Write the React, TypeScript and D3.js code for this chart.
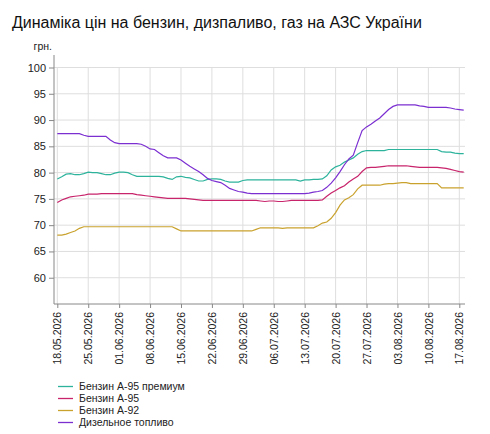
import { useEffect, useRef } from 'react';
import * as d3 from 'd3';

// one value per day, starting 18.05.2026
const startDate = new Date(2026, 4, 18);

const premium95 = [
  78.8, 79.2, 79.7, 79.8, 79.6, 79.6, 79.8, 80.1, 80.0, 80.0,
  79.8, 79.6, 79.6, 79.9, 80.1, 80.1, 80.0, 79.6, 79.3, 79.3,
  79.3, 79.3, 79.3, 79.3, 79.2, 78.9, 78.7, 79.2, 79.3, 79.1,
  79.0, 78.7, 78.4, 78.4, 78.7, 78.8, 78.8, 78.7, 78.4, 78.2,
  78.2, 78.2, 78.5, 78.6, 78.6, 78.6, 78.6, 78.6, 78.6, 78.6,
  78.6, 78.6, 78.6, 78.6, 78.6, 78.4, 78.6, 78.6, 78.7, 78.7,
  78.8, 79.4, 80.5, 81.1, 81.4, 82.0, 82.4, 82.8, 83.5, 84.0,
  84.2, 84.2, 84.2, 84.2, 84.2, 84.4, 84.4, 84.4, 84.4, 84.4,
  84.4, 84.4, 84.4, 84.4, 84.4, 84.4, 84.4, 84.0, 83.9, 83.9,
  83.7, 83.6, 83.6,
];

const petrol95 = [
  74.3, 74.8, 75.1, 75.4, 75.5, 75.6, 75.7, 75.9, 75.9, 75.9,
  76.0, 76.0, 76.0, 76.0, 76.0, 76.0, 76.0, 76.0, 75.8, 75.7,
  75.6, 75.5, 75.4, 75.3, 75.2, 75.1, 75.1, 75.1, 75.1, 75.1,
  75.0, 74.9, 74.8, 74.7, 74.7, 74.7, 74.7, 74.7, 74.7, 74.7,
  74.7, 74.7, 74.7, 74.7, 74.7, 74.7, 74.6, 74.5, 74.6, 74.6,
  74.5, 74.5, 74.6, 74.7, 74.7, 74.7, 74.7, 74.7, 74.7, 74.7,
  74.8, 75.5, 76.1, 76.6, 77.1, 77.5, 78.2, 78.8, 79.3, 80.2,
  80.9, 81.0, 81.0, 81.1, 81.2, 81.3, 81.3, 81.3, 81.3, 81.3,
  81.2, 81.1, 81.0, 81.0, 81.0, 81.0, 81.0, 80.9, 80.8, 80.6,
  80.4, 80.2, 80.1,
];

const petrol92 = [
  68.1, 68.1, 68.3, 68.6, 68.9, 69.4, 69.7, 69.7, 69.7, 69.7,
  69.7, 69.7, 69.7, 69.7, 69.7, 69.7, 69.7, 69.7, 69.7, 69.7,
  69.7, 69.7, 69.7, 69.7, 69.7, 69.7, 69.7, 69.3, 68.9, 68.9,
  68.9, 68.9, 68.9, 68.9, 68.9, 68.9, 68.9, 68.9, 68.9, 68.9,
  68.9, 68.9, 68.9, 68.9, 68.9, 69.2, 69.5, 69.5, 69.5, 69.5,
  69.5, 69.4, 69.5, 69.5, 69.5, 69.5, 69.5, 69.5, 69.5, 69.9,
  70.4, 70.6, 71.3, 72.4, 73.8, 74.8, 75.2, 75.8, 76.9, 77.6,
  77.6, 77.6, 77.6, 77.6, 77.8, 77.9, 77.9, 78.0, 78.1, 78.1,
  77.9, 77.9, 77.9, 77.9, 77.9, 77.9, 77.9, 77.1, 77.1, 77.1,
  77.1, 77.1, 77.1,
];

const diesel = [
  87.4, 87.4, 87.4, 87.4, 87.4, 87.4, 87.1, 86.9, 86.9, 86.9,
  86.9, 86.9, 86.2, 85.7, 85.5, 85.5, 85.5, 85.5, 85.5, 85.4,
  85.0, 84.5, 84.4, 83.8, 83.2, 82.8, 82.8, 82.8, 82.4, 81.8,
  81.2, 80.7, 80.2, 79.6, 78.9, 78.5, 78.3, 78.1, 77.6, 77.0,
  76.7, 76.4, 76.3, 76.1, 76.0, 76.0, 76.0, 76.0, 76.0, 76.0,
  76.0, 76.0, 76.0, 76.0, 76.0, 76.0, 76.0, 76.1, 76.3, 76.4,
  76.6, 77.2, 78.0, 79.0, 80.2, 81.5, 82.6, 83.3, 85.7, 88.0,
  88.7, 89.2, 89.8, 90.4, 91.2, 92.0, 92.6, 92.9, 92.9, 92.9,
  92.9, 92.9, 92.7, 92.6, 92.4, 92.4, 92.4, 92.4, 92.4, 92.3,
  92.1, 92.0, 91.9,
];

const seriesNames = ['Бензин А-95 премиум', 'Бензин А-95', 'Бензин А-92', 'Дизельное топливо'];
const seriesColors = ['#2db39c', '#c8246b', '#c9a22e', '#7b2fd1'];
const seriesValues = [premium95, petrol95, petrol92, diesel];

const yTicks = [60, 65, 70, 75, 80, 85, 90, 95, 100];
const xTickCount = 14; // weekly, 18.05 .. 17.08

const title = 'Динаміка цін на бензин, дизпаливо, газ на АЗС України';
const unitLabel = 'грн.';

const App = () => {
  const ref = useRef(null);

  useEffect(() => {
    const svg = d3.select(ref.current);
    svg.selectAll('*').remove();

    const dayMs = 24 * 3600 * 1000;
    const dateAt = (i: number) => new Date(startDate.getTime() + i * dayMs);

    const x = d3
      .scaleTime()
      .domain([startDate, dateAt(91)])
      .range([57.3, 459.3]);
    const y = d3.scaleLinear().domain([55, 100]).range([304, 67.5]);

    const font = '"Liberation Sans", Arial, sans-serif';

    // title
    svg
      .append('text')
      .attr('x', 12)
      .attr('y', 28)
      .style('font', `16px ${font}`)
      .attr('fill', '#111')
      .text(title);

    const xTicks = d3.range(xTickCount).map((i) => dateAt(i * 7));

    // grid
    const grid = svg.append('g');
    grid
      .selectAll('line.h')
      .data(yTicks)
      .enter()
      .append('line')
      .attr('x1', 54)
      .attr('x2', 465)
      .attr('y1', (d: any) => y(d))
      .attr('y2', (d: any) => y(d))
      .attr('stroke', '#dedede');
    grid
      .selectAll('line.v')
      .data(xTicks)
      .enter()
      .append('line')
      .attr('x1', (d: any) => x(d))
      .attr('x2', (d: any) => x(d))
      .attr('y1', y(100))
      .attr('y2', 304)
      .attr('stroke', '#dedede');

    // y axis
    const yAxis = d3.axisLeft(y).tickValues(yTicks).tickSize(5).tickSizeOuter(0);
    const gy = svg.append('g').attr('transform', 'translate(54,0)').call(yAxis);
    gy.select('.domain').remove();
    gy.selectAll('line').attr('stroke', '#888');
    gy.selectAll('text').style('font', `11px ${font}`).attr('fill', '#222');
    svg
      .append('line')
      .attr('x1', 54)
      .attr('x2', 54)
      .attr('y1', 55)
      .attr('y2', 304)
      .attr('stroke', '#888');

    svg
      .append('text')
      .attr('x', 52)
      .attr('y', 50)
      .attr('text-anchor', 'end')
      .style('font', `10.5px ${font}`)
      .attr('fill', '#222')
      .text(unitLabel);

    // x axis
    const xAxis = d3
      .axisBottom(x)
      .tickValues(xTicks)
      .tickSize(4)
      .tickSizeOuter(0)
      .tickFormat(d3.timeFormat('%d.%m.%Y') as any);
    const gx = svg.append('g').attr('transform', 'translate(0,304)').call(xAxis);
    gx.select('.domain').remove();
    gx.selectAll('line').attr('stroke', '#888');
    gx.selectAll('text')
      .style('font', `10.5px ${font}`)
      .attr('fill', '#222')
      .attr('transform', 'rotate(-90)')
      .attr('text-anchor', 'end')
      .attr('x', -8)
      .attr('y', 0)
      .attr('dy', '0.35em');
    svg
      .append('line')
      .attr('x1', 54)
      .attr('x2', 465)
      .attr('y1', 304)
      .attr('y2', 304)
      .attr('stroke', '#888');

    // lines
    const line = d3
      .line<number>()
      .x((_d, i) => x(dateAt(i)))
      .y((d) => y(d));
    seriesValues.forEach((vals, k) => {
      svg
        .append('path')
        .datum(vals)
        .attr('d', line)
        .attr('fill', 'none')
        .attr('stroke', seriesColors[k])
        .attr('stroke-width', 1.2);
    });

    // legend
    const legend = svg
      .append('g')
      .selectAll('g')
      .data(seriesNames)
      .enter()
      .append('g')
      .attr('transform', (_d: any, i: number) => `translate(0,${386.5 + i * 12})`);
    legend
      .append('line')
      .attr('x1', 58)
      .attr('x2', 73)
      .attr('stroke', (_d: any, i: number) => seriesColors[i])
      .attr('stroke-width', 1.3);
    legend
      .append('text')
      .attr('x', 79)
      .attr('dy', '0.35em')
      .style('font', `10.5px ${font}`)
      .attr('fill', '#222')
      .text((d: any) => d);
  }, []);

  return (
    <svg
      ref={ref}
      width={490}
      height={434}
      style={{ position: 'absolute', left: 0, top: 0, background: '#fff' }}
    />
  );
};

export default App;
